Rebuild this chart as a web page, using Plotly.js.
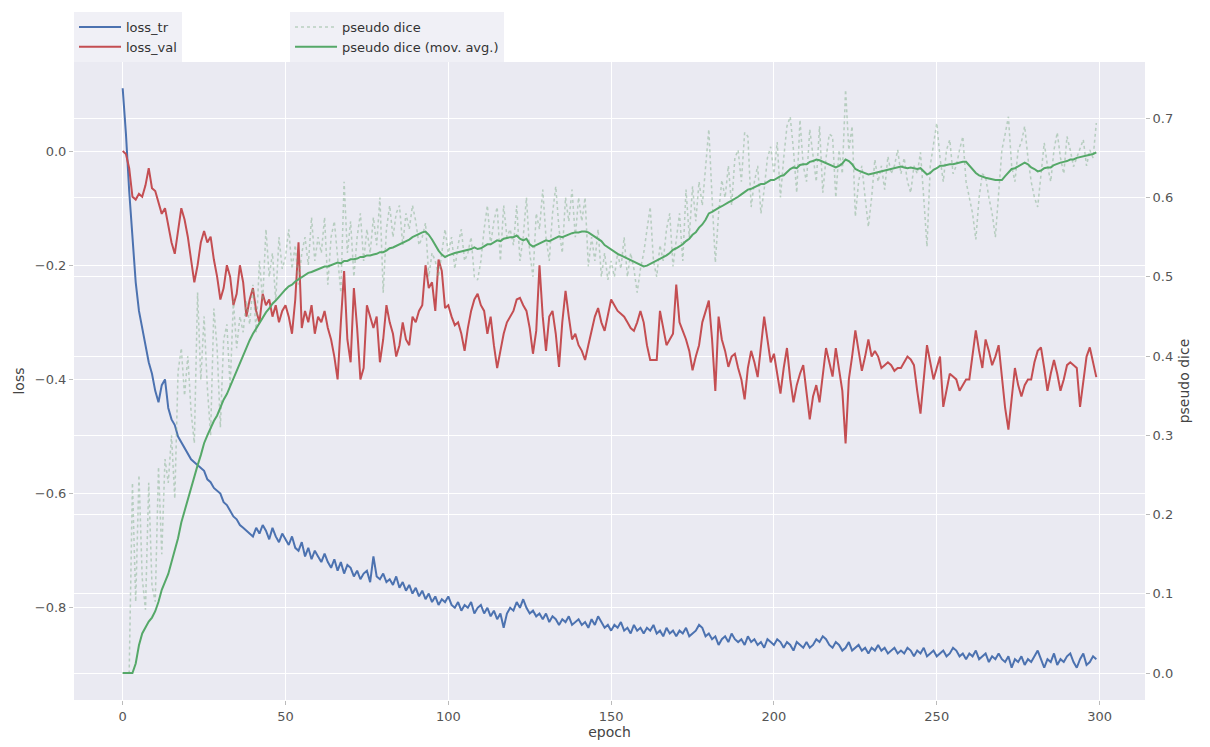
<!DOCTYPE html>
<html>
<head>
<meta charset="utf-8">
<script src="https://cdn.plot.ly/plotly-3.0.1.min.js"></script>
<style>html,body{margin:0;padding:0;background:#fff}#chart{width:1210px;height:747px}</style>
</head>
<body>
<div id="chart"></div>
<script>
const lossTr = [
0.11,0.03,-0.07,-0.16,-0.23,-0.28,-0.31,-0.34,-0.37,-0.39,
-0.42,-0.44,-0.41,-0.40,-0.45,-0.47,-0.48,-0.50,-0.51,-0.52,
-0.53,-0.54,-0.545,-0.55,-0.555,-0.56,-0.575,-0.58,-0.59,-0.595,
-0.60,-0.615,-0.62,-0.63,-0.64,-0.645,-0.655,-0.66,-0.665,-0.67,
-0.675,-0.66,-0.67,-0.655,-0.665,-0.68,-0.66,-0.675,-0.685,-0.67,
-0.68,-0.69,-0.675,-0.695,-0.70,-0.685,-0.71,-0.695,-0.715,-0.70,
-0.71,-0.72,-0.705,-0.72,-0.73,-0.715,-0.735,-0.72,-0.74,-0.725,
-0.73,-0.745,-0.735,-0.75,-0.74,-0.735,-0.755,-0.71,-0.745,-0.75,
-0.74,-0.755,-0.75,-0.76,-0.745,-0.765,-0.755,-0.77,-0.76,-0.775,
-0.765,-0.78,-0.77,-0.785,-0.775,-0.79,-0.78,-0.795,-0.785,-0.79,
-0.78,-0.795,-0.80,-0.79,-0.805,-0.795,-0.80,-0.79,-0.81,-0.80,
-0.795,-0.81,-0.80,-0.815,-0.805,-0.82,-0.81,-0.835,-0.81,-0.80,
-0.805,-0.79,-0.80,-0.785,-0.80,-0.81,-0.805,-0.815,-0.81,-0.82,
-0.81,-0.825,-0.815,-0.82,-0.83,-0.82,-0.825,-0.815,-0.83,-0.825,
-0.82,-0.83,-0.825,-0.835,-0.82,-0.83,-0.815,-0.825,-0.835,-0.83,
-0.84,-0.83,-0.835,-0.825,-0.84,-0.835,-0.845,-0.83,-0.84,-0.835,
-0.845,-0.835,-0.84,-0.83,-0.845,-0.84,-0.85,-0.835,-0.845,-0.84,
-0.85,-0.84,-0.845,-0.835,-0.85,-0.845,-0.84,-0.83,-0.835,-0.85,
-0.845,-0.855,-0.85,-0.865,-0.855,-0.85,-0.86,-0.845,-0.855,-0.86,
-0.855,-0.865,-0.85,-0.86,-0.855,-0.865,-0.86,-0.87,-0.855,-0.86,
-0.865,-0.855,-0.86,-0.87,-0.86,-0.865,-0.875,-0.86,-0.865,-0.87,
-0.86,-0.87,-0.865,-0.855,-0.86,-0.85,-0.855,-0.865,-0.87,-0.86,
-0.865,-0.875,-0.87,-0.86,-0.875,-0.87,-0.865,-0.875,-0.87,-0.88,
-0.87,-0.875,-0.865,-0.875,-0.87,-0.88,-0.875,-0.87,-0.88,-0.875,
-0.88,-0.87,-0.875,-0.885,-0.875,-0.88,-0.87,-0.885,-0.88,-0.875,
-0.885,-0.88,-0.875,-0.885,-0.88,-0.87,-0.875,-0.885,-0.88,-0.89,
-0.88,-0.885,-0.875,-0.89,-0.885,-0.88,-0.895,-0.885,-0.89,-0.88,
-0.89,-0.895,-0.885,-0.905,-0.89,-0.895,-0.885,-0.90,-0.89,-0.895,
-0.885,-0.875,-0.89,-0.905,-0.89,-0.895,-0.88,-0.90,-0.89,-0.895,
-0.885,-0.88,-0.895,-0.905,-0.89,-0.88,-0.90,-0.895,-0.885,-0.89
];

const lossVal = [
0.0,-0.005,-0.03,-0.08,-0.085,-0.075,-0.08,-0.06,-0.03,-0.065,
-0.07,-0.09,-0.11,-0.10,-0.13,-0.16,-0.18,-0.14,-0.10,-0.12,
-0.15,-0.19,-0.23,-0.20,-0.16,-0.14,-0.16,-0.15,-0.19,-0.22,
-0.26,-0.24,-0.20,-0.22,-0.27,-0.25,-0.20,-0.23,-0.29,-0.26,
-0.24,-0.28,-0.30,-0.25,-0.27,-0.26,-0.29,-0.27,-0.30,-0.28,
-0.27,-0.29,-0.32,-0.26,-0.16,-0.31,-0.28,-0.30,-0.27,-0.32,
-0.29,-0.30,-0.28,-0.31,-0.33,-0.36,-0.40,-0.30,-0.21,-0.33,
-0.37,-0.24,-0.31,-0.40,-0.38,-0.27,-0.29,-0.31,-0.29,-0.37,
-0.33,-0.27,-0.30,-0.32,-0.36,-0.34,-0.30,-0.33,-0.34,-0.29,
-0.30,-0.28,-0.27,-0.20,-0.24,-0.23,-0.28,-0.19,-0.21,-0.275,
-0.27,-0.29,-0.305,-0.30,-0.32,-0.35,-0.31,-0.28,-0.26,-0.25,
-0.27,-0.28,-0.32,-0.29,-0.34,-0.38,-0.35,-0.32,-0.30,-0.29,
-0.28,-0.26,-0.257,-0.27,-0.28,-0.31,-0.355,-0.315,-0.20,-0.29,
-0.35,-0.29,-0.28,-0.32,-0.378,-0.30,-0.245,-0.29,-0.33,-0.32,
-0.34,-0.35,-0.366,-0.34,-0.315,-0.29,-0.275,-0.30,-0.315,-0.29,
-0.26,-0.27,-0.28,-0.285,-0.29,-0.30,-0.31,-0.315,-0.30,-0.28,
-0.30,-0.34,-0.366,-0.366,-0.366,-0.28,-0.31,-0.34,-0.33,-0.32,
-0.234,-0.30,-0.315,-0.33,-0.35,-0.384,-0.36,-0.34,-0.30,-0.28,
-0.262,-0.33,-0.42,-0.29,-0.33,-0.35,-0.378,-0.36,-0.355,-0.38,
-0.40,-0.435,-0.38,-0.35,-0.37,-0.396,-0.34,-0.29,-0.33,-0.37,
-0.355,-0.39,-0.425,-0.38,-0.345,-0.40,-0.44,-0.41,-0.39,-0.375,
-0.42,-0.47,-0.43,-0.41,-0.44,-0.39,-0.345,-0.37,-0.395,-0.345,
-0.38,-0.42,-0.512,-0.40,-0.36,-0.314,-0.35,-0.385,-0.36,-0.33,
-0.36,-0.35,-0.36,-0.38,-0.375,-0.37,-0.375,-0.385,-0.38,-0.38,
-0.37,-0.36,-0.365,-0.375,-0.42,-0.46,-0.40,-0.34,-0.37,-0.40,
-0.38,-0.36,-0.448,-0.42,-0.39,-0.395,-0.40,-0.42,-0.41,-0.40,
-0.40,-0.36,-0.314,-0.35,-0.38,-0.33,-0.35,-0.375,-0.36,-0.34,
-0.40,-0.45,-0.488,-0.43,-0.38,-0.41,-0.43,-0.41,-0.40,-0.40,
-0.37,-0.35,-0.344,-0.38,-0.42,-0.39,-0.366,-0.39,-0.42,-0.40,
-0.375,-0.37,-0.375,-0.38,-0.448,-0.40,-0.36,-0.344,-0.37,-0.396
];

const pseudoDice = [
0,0,0,0.24,0.09,0.25,0.12,0.08,0.24,0.11,
0.09,0.26,0.15,0.27,0.24,0.30,0.22,0.38,0.41,0.35,
0.40,0.33,0.29,0.48,0.37,0.45,0.36,0.30,0.46,0.41,
0.31,0.42,0.44,0.36,0.47,0.41,0.45,0.43,0.47,0.44,
0.49,0.43,0.52,0.47,0.56,0.50,0.53,0.47,0.55,0.51,
0.525,0.56,0.51,0.54,0.49,0.53,0.55,0.515,0.575,0.52,
0.55,0.53,0.575,0.49,0.55,0.57,0.52,0.48,0.62,0.53,
0.57,0.50,0.55,0.58,0.52,0.56,0.53,0.575,0.54,0.60,
0.48,0.56,0.59,0.55,0.58,0.59,0.54,0.58,0.56,0.59,
0.57,0.54,0.55,0.568,0.50,0.53,0.52,0.50,0.53,0.56,
0.53,0.55,0.51,0.54,0.56,0.52,0.53,0.55,0.50,0.496,
0.52,0.56,0.59,0.54,0.57,0.588,0.52,0.59,0.55,0.56,
0.54,0.59,0.52,0.55,0.60,0.53,0.50,0.58,0.56,0.61,
0.55,0.52,0.58,0.614,0.56,0.53,0.60,0.57,0.61,0.55,
0.60,0.57,0.60,0.513,0.55,0.52,0.56,0.50,0.53,0.496,
0.52,0.50,0.53,0.51,0.55,0.50,0.53,0.51,0.48,0.51,
0.53,0.56,0.588,0.52,0.50,0.54,0.52,0.56,0.58,0.513,
0.55,0.58,0.52,0.61,0.55,0.614,0.57,0.62,0.59,0.64,
0.686,0.60,0.518,0.58,0.622,0.60,0.64,0.59,0.65,0.66,
0.62,0.682,0.677,0.588,0.62,0.64,0.58,0.61,0.65,0.664,
0.63,0.67,0.60,0.65,0.69,0.702,0.66,0.606,0.698,0.64,
0.62,0.686,0.65,0.62,0.69,0.606,0.65,0.68,0.677,0.60,
0.66,0.63,0.736,0.66,0.69,0.576,0.62,0.64,0.60,0.563,
0.60,0.648,0.62,0.64,0.61,0.652,0.63,0.64,0.66,0.63,
0.65,0.62,0.606,0.64,0.63,0.657,0.60,0.538,0.64,0.67,
0.694,0.65,0.62,0.66,0.673,0.63,0.64,0.66,0.677,0.62,
0.60,0.58,0.547,0.60,0.63,0.626,0.60,0.58,0.55,0.60,
0.66,0.68,0.702,0.64,0.62,0.66,0.67,0.69,0.65,0.62,
0.60,0.588,0.63,0.669,0.64,0.62,0.66,0.682,0.65,0.63,
0.677,0.66,0.639,0.65,0.66,0.673,0.64,0.66,0.65,0.694
];

const pseudoDiceMovAvg = [
0,0,0,0,0.012,0.035,0.05,0.058,0.065,0.07,
0.078,0.09,0.105,0.115,0.125,0.14,0.155,0.17,0.19,0.205,
0.22,0.235,0.25,0.262,0.275,0.29,0.30,0.31,0.318,0.325,
0.335,0.345,0.352,0.362,0.372,0.38,0.39,0.40,0.41,0.42,
0.428,0.435,0.442,0.448,0.455,0.46,0.466,0.47,0.475,0.48,
0.484,0.488,0.49,0.494,0.497,0.50,0.502,0.505,0.506,0.508,
0.51,0.511,0.513,0.513,0.515,0.517,0.518,0.517,0.52,0.52,
0.522,0.522,0.523,0.525,0.525,0.527,0.527,0.528,0.529,0.531,
0.531,0.533,0.536,0.537,0.539,0.541,0.542,0.545,0.547,0.55,
0.552,0.555,0.556,0.557,0.553,0.547,0.54,0.533,0.528,0.525,
0.527,0.529,0.53,0.531,0.532,0.533,0.534,0.535,0.537,0.535,
0.536,0.538,0.541,0.541,0.543,0.546,0.545,0.548,0.549,0.55,
0.55,0.552,0.548,0.546,0.548,0.541,0.538,0.54,0.542,0.545,
0.546,0.545,0.547,0.55,0.551,0.55,0.552,0.553,0.555,0.556,
0.556,0.557,0.557,0.556,0.553,0.55,0.547,0.545,0.54,0.537,
0.535,0.532,0.529,0.527,0.525,0.522,0.52,0.518,0.516,0.514,
0.513,0.514,0.516,0.518,0.52,0.522,0.525,0.527,0.53,0.534,
0.536,0.538,0.541,0.545,0.548,0.553,0.556,0.562,0.566,0.572,
0.58,0.582,0.585,0.587,0.589,0.592,0.594,0.596,0.598,0.601,
0.604,0.607,0.61,0.611,0.613,0.615,0.617,0.617,0.619,0.622,
0.622,0.625,0.627,0.628,0.632,0.636,0.638,0.637,0.641,0.642,
0.642,0.645,0.646,0.648,0.647,0.645,0.644,0.642,0.64,0.638,
0.64,0.643,0.648,0.646,0.642,0.636,0.634,0.632,0.63,0.629,
0.63,0.631,0.632,0.633,0.634,0.635,0.636,0.637,0.638,0.639,
0.638,0.637,0.638,0.637,0.636,0.637,0.633,0.629,0.631,0.635,
0.637,0.64,0.64,0.641,0.642,0.642,0.643,0.644,0.645,0.645,
0.64,0.636,0.631,0.628,0.626,0.625,0.624,0.623,0.622,0.622,
0.622,0.627,0.632,0.636,0.637,0.639,0.641,0.644,0.642,0.638,
0.636,0.633,0.634,0.637,0.638,0.638,0.641,0.643,0.644,0.645,
0.646,0.648,0.648,0.65,0.651,0.652,0.653,0.654,0.655,0.657
];

const epochs = lossTr.map((_, i) => i);
const xTicks = [0, 50, 100, 150, 200, 250, 300];
const lossTicks = [-0.8, -0.6, -0.4, -0.2, 0.0];
const diceTicks = [0.0, 0.1, 0.2, 0.3, 0.4, 0.5, 0.6, 0.7];

const FONT = 'DejaVu Sans, Verdana, sans-serif';
const TICKCOL = '#555555';

const traces = [
  {x: epochs, y: lossTr, name: 'loss_tr', type: 'scatter', mode: 'lines',
   line: {color: '#4C72B0', width: 2}, yaxis: 'y', legend: 'legend'},
  {x: epochs, y: lossVal, name: 'loss_val', type: 'scatter', mode: 'lines',
   line: {color: '#C44E52', width: 2}, yaxis: 'y', legend: 'legend'},
  {x: epochs, y: pseudoDice, name: 'pseudo dice', type: 'scatter', mode: 'lines',
   line: {color: 'rgba(130,175,140,0.5)', width: 1.5, dash: 'dot'}, yaxis: 'y2', legend: 'legend2'},
  {x: epochs, y: pseudoDiceMovAvg, name: 'pseudo dice (mov. avg.)', type: 'scatter', mode: 'lines',
   line: {color: '#55A868', width: 2}, yaxis: 'y2', legend: 'legend2'}
];

const axisCommon = {
  showgrid: true, gridcolor: '#ffffff', gridwidth: 1,
  zeroline: false, showline: false,
  ticks: 'outside', ticklen: 4, tickcolor: '#bbbbbb',
  tickfont: {family: FONT, size: 13, color: TICKCOL}
};

const layout = {
  width: 1210, height: 747,
  paper_bgcolor: '#ffffff', plot_bgcolor: '#EAEAF2',
  margin: {l: 74, r: 65, t: 62, b: 47},
  font: {family: FONT, size: 13, color: '#444'},
  xaxis: Object.assign({}, axisCommon, {
    range: [-14.95, 313.95], tickvals: xTicks,
    title: {text: 'epoch', font: {family: FONT, size: 14, color: '#444'}, standoff: 4}
  }),
  yaxis: Object.assign({}, axisCommon, {
    range: [-0.9615, 0.156], tickvals: lossTicks, tickformat: '.1f',
    title: {text: 'loss', font: {family: FONT, size: 14, color: '#444'}, standoff: 6}
  }),
  yaxis2: Object.assign({}, axisCommon, {
    overlaying: 'y', side: 'right',
    range: [-0.034, 0.771], tickvals: diceTicks, tickformat: '.1f',
    title: {text: 'pseudo dice', font: {family: FONT, size: 14, color: '#444'}, standoff: 6}
  }),
  legend: {
    x: 0.0, y: 1.0, xanchor: 'left', yanchor: 'bottom',
    bgcolor: 'rgba(234,234,242,0.7)', borderwidth: 0,
    font: {family: FONT, size: 13, color: '#333'},
    tracegroupgap: 0, itemwidth: 42
  },
  legend2: {
    x: 0.2017, y: 1.0, xanchor: 'left', yanchor: 'bottom',
    bgcolor: 'rgba(234,234,242,0.7)', borderwidth: 0,
    font: {family: FONT, size: 13, color: '#333'},
    tracegroupgap: 0, itemwidth: 42
  },
  showlegend: true
};

Plotly.newPlot('chart', traces, layout, {displayModeBar: false, staticPlot: true});
</script>
</body>
</html>
